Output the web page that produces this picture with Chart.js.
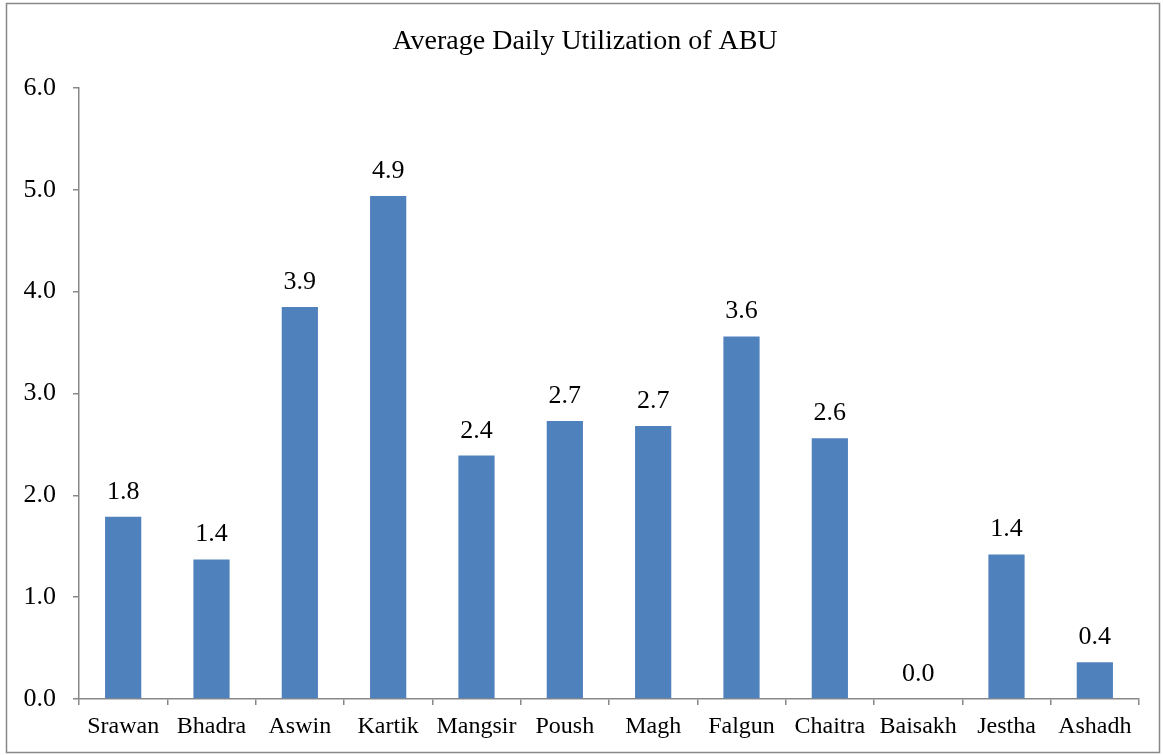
<!DOCTYPE html>
<html>
<head>
<meta charset="utf-8">
<script src="https://cdn.jsdelivr.net/npm/chart.js@4.4.0/dist/chart.umd.min.js"></script>
<style>
  body { margin: 0; background: #fff; }
  #wrap { width: 1163px; height: 755px; }
</style>
</head>
<body>
<div id="wrap"><canvas id="chart1" width="1163" height="755"></canvas></div>
<script>
const months = ['Srawan', 'Bhadra', 'Aswin', 'Kartik', 'Mangsir', 'Poush', 'Magh', 'Falgun', 'Chaitra', 'Baisakh', 'Jestha', 'Ashadh'];
const utilization = [1.79, 1.37, 3.85, 4.94, 2.39, 2.73, 2.68, 3.56, 2.56, 0.0, 1.42, 0.36];
const yTicks = [0, 1, 2, 3, 4, 5, 6];
const chartTitle = 'Average Daily Utilization of ABU';

const serif = '"Liberation Serif", "Times New Roman", serif';

// outer frame + title (title centred on the frame, not the plot)
const framePlugin = {
  id: 'frame',
  beforeDraw(chart) {
    const ctx = chart.ctx;
    ctx.save();
    ctx.fillStyle = '#fff';
    ctx.fillRect(0, 0, chart.width, chart.height);
    ctx.strokeStyle = '#888';
    ctx.lineWidth = 1.5;
    ctx.strokeRect(6.5, 3.5, 1153, 749);
    ctx.font = '28px ' + serif;
    ctx.fillStyle = '#000';
    ctx.textAlign = 'center';
    ctx.textBaseline = 'middle';
    ctx.fillText(chartTitle, 585, 42);
    ctx.restore();
  }
};

// value labels above bars
const valueLabels = {
  id: 'valueLabels',
  afterDatasetsDraw(chart) {
    const ctx = chart.ctx;
    const meta = chart.getDatasetMeta(0);
    ctx.save();
    ctx.font = '26px ' + serif;
    ctx.fillStyle = '#000';
    ctx.textAlign = 'center';
    ctx.textBaseline = 'alphabetic';
    meta.data.forEach((bar, i) => {
      ctx.fillText(utilization[i].toFixed(1), bar.x, bar.y - 18);
    });
    ctx.restore();
  }
};

const ctx1 = document.getElementById('chart1').getContext('2d');
new Chart(ctx1, {
  type: 'bar',
  data: {
    labels: months,
    datasets: [{
      data: utilization,
      backgroundColor: '#4F81BD',
      borderWidth: 0,
      barPercentage: 0.41,
      categoryPercentage: 1.0
    }]
  },
  options: {
    responsive: false,
    animation: false,
    layout: { padding: { left: 0, right: 24, top: 88, bottom: 0 } },
    plugins: {
      legend: { display: false },
      tooltip: { enabled: false },
      title: { display: false }
    },
    scales: {
      x: {
        grid: { display: true, drawOnChartArea: false, offset: true, tickLength: 6, color: '#888', lineWidth: 1.5 },
        border: { display: true, color: '#888', width: 1.5 },
        ticks: { color: '#000', font: { family: serif, size: 24 }, padding: 7, maxRotation: 0, autoSkip: false },
        afterFit(s) { s.height = 56; }
      },
      y: {
        min: 0,
        max: 6,
        afterBuildTicks(s) { s.ticks = yTicks.map(v => ({ value: v })); },
        grid: { display: true, drawOnChartArea: false, tickLength: 6, color: '#888', lineWidth: 1.5 },
        border: { display: true, color: '#888', width: 1.5 },
        ticks: { color: '#000', font: { family: serif, size: 26 }, padding: 17, callback: v => v.toFixed(1) },
        afterFit(s) { s.width = 79; }
      }
    }
  },
  plugins: [framePlugin, valueLabels]
});
</script>
</body>
</html>
